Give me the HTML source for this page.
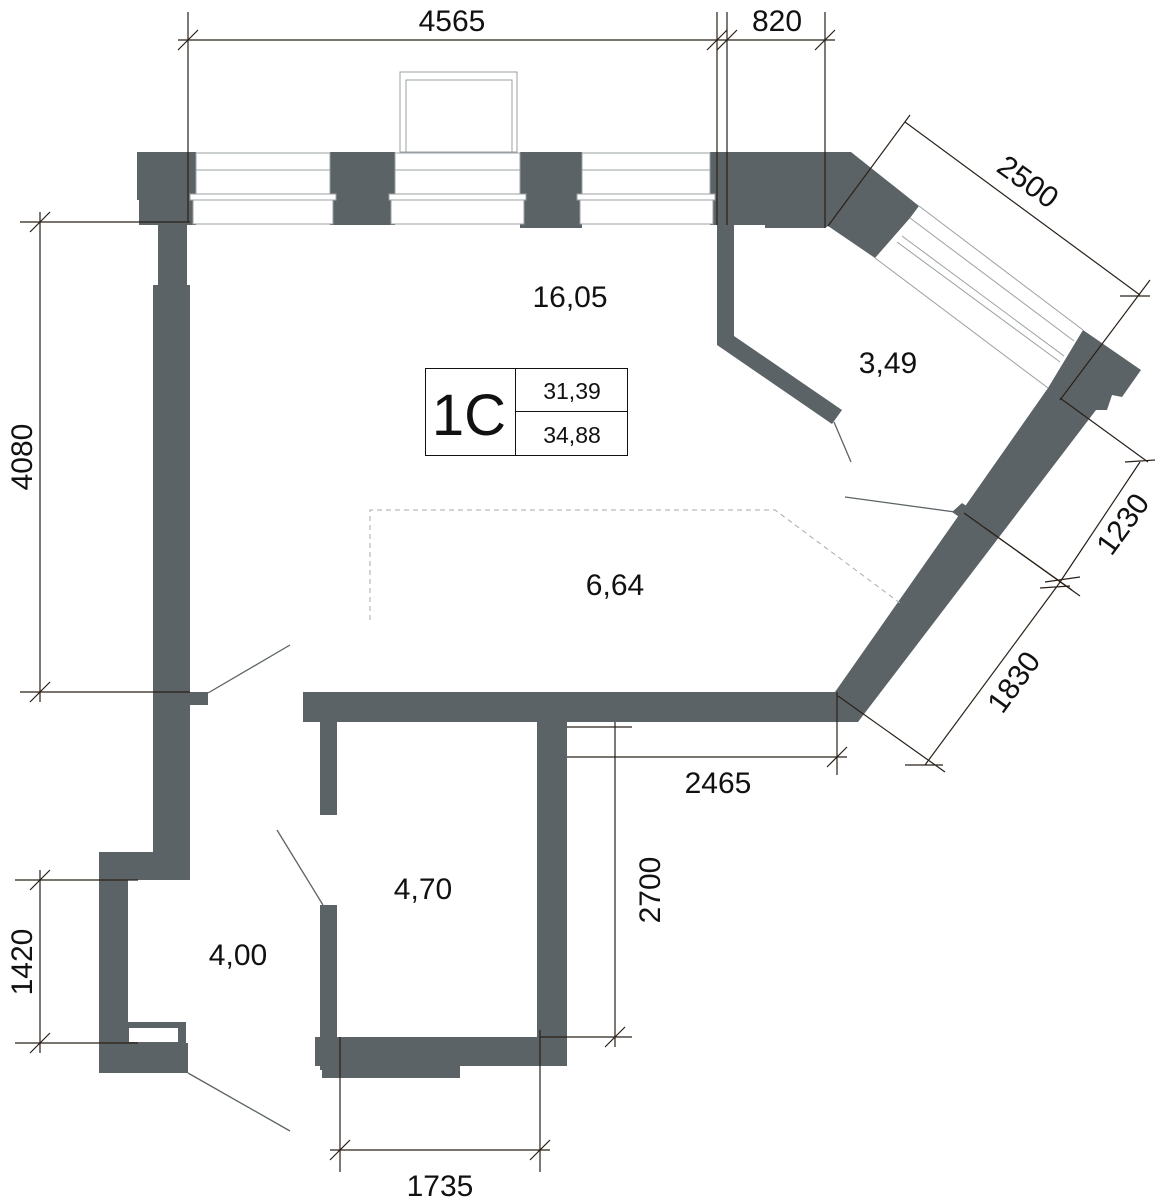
<!DOCTYPE html>
<html><head><meta charset="utf-8"><style>
html,body{margin:0;padding:0;background:#fff}
svg{display:block}
text{font-family:"Liberation Sans",sans-serif;fill:#111}
</style></head><body>
<svg width="1167" height="1200" viewBox="0 0 1167 1200" xmlns="http://www.w3.org/2000/svg">
<g fill="#5c6366">
<polygon points="137,152 196,152 196,225 139,225 139,200 137,200"/>
<rect x="330" y="152" width="65" height="73"/>
<rect x="520" y="152" width="62" height="76"/>
<polygon points="710,152 851,152 919,206 910,218 875,258 828,226 825,228 765,228 765,225 710,225"/>
<rect x="158" y="222" width="29" height="65"/>
<rect x="153" y="285" width="37" height="595"/>
<rect x="188" y="692" width="20" height="13"/>
<rect x="99" y="852" width="91" height="28"/>
<rect x="99" y="880" width="29" height="193"/>
<rect x="99" y="1043" width="89" height="30"/>
<path d="M128,1022 H186 V1043 H128 Z M129,1028 V1042 H178 V1028 Z" fill-rule="evenodd"/>
<polygon points="717,225 734,225 734,336 842,410 832,424 717,345"/>
<polygon points="1083,330 1141,370 1122,397 1112,395 1107,410 1096,410 858,722 835,722 835,692 1048,388"/>
<polygon points="952,512 962,503 988,520 978,530"/>
<rect x="303" y="692" width="552" height="30"/>
<rect x="320" y="692" width="17" height="123"/>
<rect x="320" y="905" width="17" height="165"/>
<rect x="537" y="722" width="30" height="344"/>
<rect x="315" y="1037" width="252" height="29"/>
<rect x="322" y="1060" width="138" height="18"/>
</g>
<g fill="#fff" stroke="#9aa0a3" stroke-width="1">
<rect x="196" y="153" width="134" height="41"/><line x1="196" y1="170" x2="330" y2="170"/>
<rect x="190" y="194" width="146" height="6"/><rect x="193" y="200" width="140" height="24"/>
<rect x="395" y="153" width="125" height="41"/><line x1="395" y1="170" x2="520" y2="170"/>
<rect x="389" y="194" width="137" height="6"/><rect x="391" y="200" width="133" height="24"/>
<rect x="582" y="153" width="128" height="41"/><line x1="582" y1="170" x2="710" y2="170"/>
<rect x="577" y="194" width="138" height="6"/><rect x="580" y="200" width="133" height="24"/>
<rect x="400" y="72" width="117" height="80" fill="none"/>
<rect x="406" y="80" width="106" height="72" fill="none"/>
</g>
<g stroke="#9aa0a3" stroke-width="1" fill="none">
<line x1="919" y1="206" x2="1083" y2="330"/>
<line x1="910" y1="218" x2="1074" y2="341"/>
<line x1="902" y1="236" x2="1064" y2="356"/>
<line x1="897" y1="242" x2="1060" y2="362"/>
<line x1="875" y1="258" x2="1048" y2="388"/>
</g>
<g stroke="#5c6366" stroke-width="1.3">
<line x1="208" y1="693" x2="290" y2="645"/>
<line x1="277" y1="830" x2="323" y2="905"/>
<line x1="188" y1="1073" x2="290" y2="1131"/>
<line x1="834" y1="422" x2="851" y2="462"/>
<line x1="845" y1="497" x2="955" y2="512"/>
</g>
<polyline points="370,620 370,510 775,510 900,603" fill="none" stroke="#aaa" stroke-width="1" stroke-dasharray="5,4"/>
<g stroke="#2a2018" stroke-width="1.2" fill="none">
<line x1="188" y1="12" x2="188" y2="222"/><line x1="717" y1="12" x2="717" y2="225"/>
<line x1="727" y1="12" x2="727" y2="225"/><line x1="825" y1="12" x2="825" y2="228"/>
<line x1="178" y1="40" x2="835" y2="40"/>
<line x1="178" y1="50" x2="198" y2="30"/><line x1="707" y1="50" x2="727" y2="30"/>
<line x1="717" y1="50" x2="737" y2="30"/><line x1="815" y1="50" x2="835" y2="30"/>
<line x1="20" y1="222" x2="190" y2="222"/><line x1="20" y1="692" x2="190" y2="692"/>
<line x1="40" y1="212" x2="40" y2="702"/>
<line x1="30" y1="232" x2="50" y2="212"/><line x1="30" y1="702" x2="50" y2="682"/>
<line x1="15" y1="880" x2="138" y2="880"/><line x1="15" y1="1043" x2="138" y2="1043"/>
<line x1="40" y1="870" x2="40" y2="1053"/>
<line x1="30" y1="890" x2="50" y2="870"/><line x1="30" y1="1053" x2="50" y2="1033"/>
<line x1="340" y1="1037" x2="340" y2="1172"/><line x1="540" y1="1030" x2="540" y2="1172"/>
<line x1="330" y1="1150" x2="550" y2="1150"/>
<line x1="330" y1="1160" x2="350" y2="1140"/><line x1="530" y1="1160" x2="550" y2="1140"/>
<line x1="540" y1="1037" x2="632" y2="1037"/><line x1="567" y1="727" x2="632" y2="727"/>
<line x1="615" y1="722" x2="615" y2="1047"/>
<line x1="605" y1="1047" x2="625" y2="1027"/>
<line x1="567" y1="757" x2="847" y2="757"/>
<line x1="837" y1="692" x2="837" y2="775"/>
<line x1="827" y1="767" x2="847" y2="747"/>
<line x1="828" y1="226" x2="910" y2="115"/>
<line x1="905" y1="122" x2="1140" y2="295"/>
<line x1="1150" y1="280" x2="1060" y2="400"/>
<line x1="1120" y1="296" x2="1150" y2="296"/>
<line x1="1060" y1="398" x2="1148" y2="462"/>
<line x1="1140" y1="462" x2="1058" y2="585"/>
<line x1="1125" y1="462" x2="1155" y2="460"/>
<line x1="964" y1="513" x2="1080" y2="596"/>
<line x1="985" y1="528" x2="1072" y2="590"/>
<line x1="1045" y1="582" x2="1080" y2="577"/><line x1="1040" y1="588" x2="1070" y2="586"/>
<line x1="1058" y1="585" x2="925" y2="765"/>
<line x1="838" y1="696" x2="945" y2="772"/>
<line x1="905" y1="765" x2="943" y2="765"/>
</g>
<g stroke="#111" stroke-width="1" fill="none">
<rect x="425.5" y="368.5" width="202" height="87"/>
<line x1="515.5" y1="368" x2="515.5" y2="456"/>
<line x1="515" y1="411.5" x2="627" y2="411.5"/>
</g>
<text x="469" y="435" font-size="58" text-anchor="middle">1C</text>
<text x="572" y="399" font-size="23" text-anchor="middle">31,39</text>
<text x="572" y="443" font-size="23" text-anchor="middle">34,88</text>
<g font-size="30" text-anchor="middle">
<text x="570" y="307">16,05</text>
<text x="888" y="373">3,49</text>
<text x="615" y="595">6,64</text>
<text x="423" y="899">4,70</text>
<text x="238" y="965">4,00</text>
<text x="452" y="31">4565</text>
<text x="777" y="31">820</text>
<text x="718" y="793">2465</text>
<text x="440" y="1196">1735</text>
<text transform="translate(32,457) rotate(-90)">4080</text>
<text transform="translate(32,962) rotate(-90)">1420</text>
<text transform="translate(660,890) rotate(-90)">2700</text>
<text transform="translate(1022,190) rotate(36)">2500</text>
<text transform="translate(1131,530) rotate(-54)">1230</text>
<text transform="translate(1022,688) rotate(-54)">1830</text>
</g>
</svg>
</body></html>
